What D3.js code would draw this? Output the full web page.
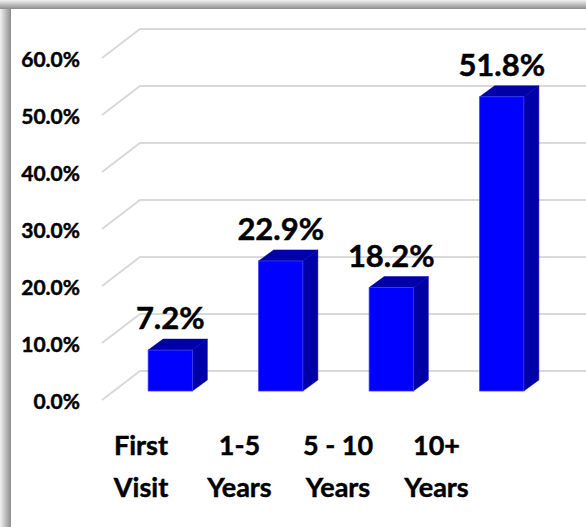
<!DOCTYPE html>
<html>
<head>
<meta charset="utf-8">
<script src="https://cdn.jsdelivr.net/npm/d3@7"></script>
<style>
  html, body { margin: 0; padding: 0; background: #fff; }
  svg { display: block; }
  text { font-family: Lato, "Open Sans", sans-serif; font-weight: 700; fill: #000; stroke: #000; stroke-width: 0.45px; }
</style>
</head>
<body>
<svg id="chart" width="586" height="527"></svg>
<script>
// Share of visitors by how long they have been coming
const categories = ["First Visit", "1-5 Years", "5 - 10 Years", "10+ Years"];
const categoryLines = [["First", "Visit"], ["1-5", "Years"], ["5 - 10", "Years"], ["10+", "Years"]];
const values = [7.2, 22.9, 18.2, 51.8];
const tickValues = [0, 10, 20, 30, 40, 50, 60];

const W = 586, H = 527;
const svg = d3.select("#chart");
const defs = svg.append("defs");

// card frame with a soft shadow on the top and left
const gl = defs.append("linearGradient").attr("id", "shadowL").attr("x1", 0).attr("x2", 1).attr("y1", 0).attr("y2", 0);
gl.append("stop").attr("offset", 0).attr("stop-color", "#f2f2f2");
gl.append("stop").attr("offset", 1).attr("stop-color", "#8c8c8c");
const gt = defs.append("linearGradient").attr("id", "shadowT").attr("x1", 0).attr("x2", 0).attr("y1", 0).attr("y2", 1);
gt.append("stop").attr("offset", 0).attr("stop-color", "#f2f2f2");
gt.append("stop").attr("offset", 1).attr("stop-color", "#8c8c8c");

const cardX = 11, cardY = 9;
svg.append("rect").attr("x", 0).attr("y", 0).attr("width", cardX).attr("height", H).attr("fill", "url(#shadowL)");
svg.append("rect").attr("x", 0).attr("y", 0).attr("width", W).attr("height", cardY).attr("fill", "url(#shadowT)");
svg.append("rect").attr("x", cardX).attr("y", cardY).attr("width", W - cardX).attr("height", H - cardY).attr("fill", "#fff");

// 3-D projection: back wall, floor depth offset
const wallX0 = 140, wallX1 = W;
const floorDX = wallX0 - 102, floorDY = 29;
const yBack = d3.scaleLinear().domain([0, 60]).range([371, 29]);
const yFront = d3.scaleLinear().domain([0, 60]).range([371 + floorDY, 29 + floorDY]);
const yBar = d3.scaleLinear().domain([0, 60]).range([391, 391 - 5.68 * 60]);

const x = d3.scaleBand().domain(categories).range([115, 557]).paddingInner(0.6).paddingOuter(0.3);
const xLabel = d3.scalePoint().domain(categories).range([141, 436.5]);

// gridlines: slanted floor part + horizontal back-wall part
const grid = svg.append("g").attr("fill", "none").attr("stroke", "#d9d9d9").attr("stroke-width", 2);
grid.selectAll("path").data(tickValues).join("path")
  .attr("d", v => `M${wallX0 - floorDX},${yFront(v)}L${wallX0},${yBack(v)}L${wallX1},${yBack(v)}`);

// y axis labels
const yAxis = d3.axisLeft(yFront).tickValues(tickValues).tickSize(0).tickPadding(0)
  .tickFormat(d => d.toFixed(1) + "%");
const ag = svg.append("g").attr("transform", "translate(80,2)").call(yAxis);
ag.select(".domain").remove();
ag.selectAll("text").attr("font-size", 21).attr("font-family", "Lato, sans-serif").attr("font-weight", 700).attr("fill", "#000");

// bars as boxes: front face, side and top
const dX = 15, dY = -11;
const front = "#0000ff", dark = "#0000a8", edge = "#3a3aff";
const bars = svg.append("g").selectAll("g").data(categories.map((c, i) => ({ c, v: values[i] }))).join("g");
bars.append("path") // side
  .attr("fill", dark).attr("stroke", dark).attr("stroke-width", 0.5)
  .attr("d", d => {
    const x1 = x(d.c) + x.bandwidth(), t = yBar(d.v), b = yBar(0);
    return `M${x1},${t}L${x1 + dX},${t + dY}L${x1 + dX},${b + dY}L${x1},${b}Z`;
  });
bars.append("path") // top
  .attr("fill", dark).attr("stroke", dark).attr("stroke-width", 0.5)
  .attr("d", d => {
    const x0 = x(d.c), x1 = x0 + x.bandwidth(), t = yBar(d.v);
    return `M${x0},${t}L${x0 + dX},${t + dY}L${x1 + dX},${t + dY}L${x1},${t}Z`;
  });
bars.append("rect") // front
  .attr("x", d => x(d.c)).attr("y", d => yBar(d.v))
  .attr("width", x.bandwidth()).attr("height", d => yBar(0) - yBar(d.v))
  .attr("fill", front).attr("stroke", edge).attr("stroke-width", 0.8);

// value labels
bars.append("text")
  .attr("x", d => x(d.c) + x.bandwidth() / 2)
  .attr("y", d => yBar(d.v) - 21)
  .attr("text-anchor", "middle").attr("font-size", 31)
  .text(d => d.v.toFixed(1) + "%");

// category labels on two lines
const cl = svg.append("g").selectAll("text").data(categories).join("text")
  .attr("text-anchor", "middle").attr("font-size", 27)
  .attr("transform", d => `translate(${xLabel(d)},0)`);
cl.selectAll("tspan").data((d, i) => categoryLines[i]).join("tspan")
  .attr("x", 0).attr("y", (d, j) => 455 + j * 42).text(d => d);
</script>
</body>
</html>
